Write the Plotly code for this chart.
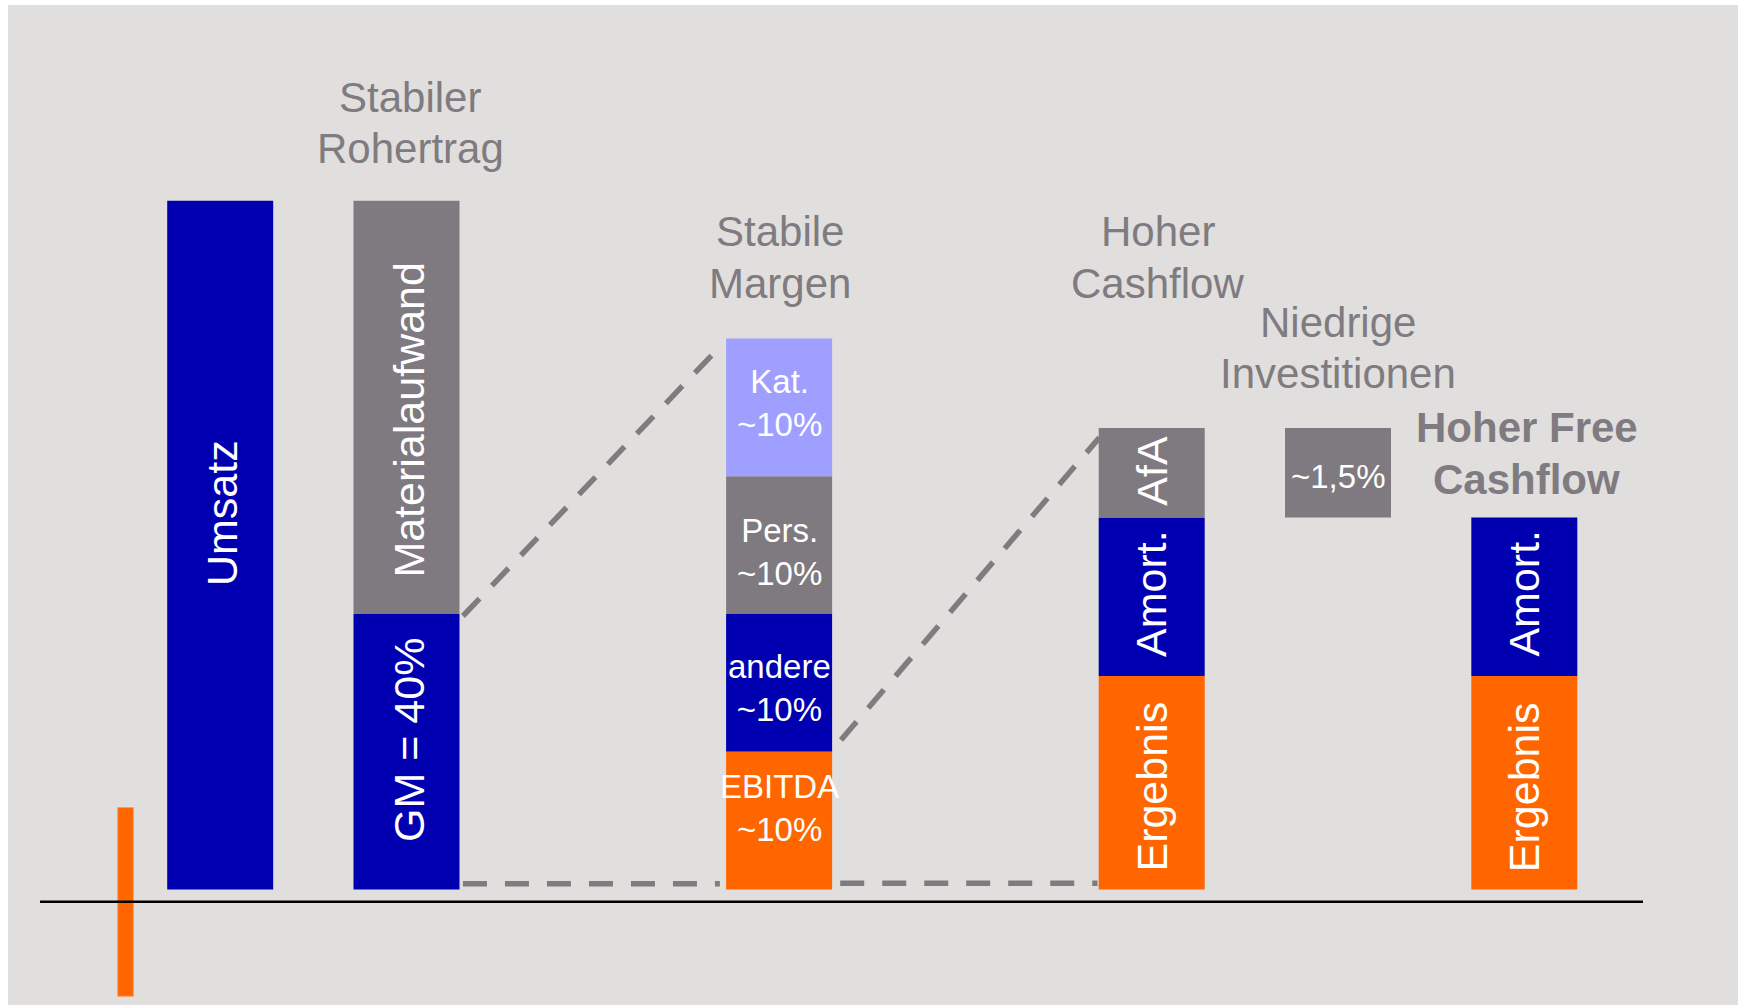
import plotly.graph_objects as go

# ---------------- data ----------------
# bar segments (x position, base, value, colour group)
seg_pos   = [0,   1,  1,  3,  3,  3,  3,  5,  5,  5,  6,  7,  7]
seg_base  = [0,   0, 40,  0, 20, 40, 60,  0, 31, 54, 54,  0, 31]
seg_value = [100, 40, 60, 20, 20, 20, 20, 31, 23, 13, 13, 31, 23]
seg_group = ["blue", "blue", "gray", "orange", "blue", "gray", "lavender",
             "orange", "blue", "gray", "gray", "orange", "blue"]

# small orange marker on the left
marker_pos = [-0.508]
marker_base = [-15.5]
marker_value = [27.4]

# rotated in-bar labels (x, y, text)
rot_x = [0.01, 1.013, 1.013, 5.0, 5.0, 5.0, 7.0, 7.0]
rot_y = [54.65, 68.2, 21.7, 14.9, 43.0, 60.75, 14.9, 43.0]
rot_text = ["Umsatz", "Materialaufwand", "GM = 40%", "Ergebnis", "Amort.", "AfA",
            "Ergebnis", "Amort."]

# horizontal in-bar labels
hor_x = [3.0, 3.0, 3.0, 3.0, 6.0]
hor_y = [70.6, 49.0, 29.2, 11.8, 59.95]
hor_text = ["Kat.<br>~10%", "Pers.<br>~10%", "andere<br>~10%", "EBITDA<br>~10%", "~1,5%"]

# header lines
head_x = [1.019, 1.019, 3.006, 3.006, 5.033, 5.033, 6.0, 6.0, 7.014, 7.014]
head_y = [115.0, 107.51, 95.45, 88.0, 95.45, 88.0, 82.38, 74.94, 67.0, 59.58]
head_text = ["Stabiler", "Rohertrag", "Stabile", "Margen", "Hoher", "Cashflow",
             "Niedrige", "Investitionen", "<b>Hoher Free</b>", "<b>Cashflow</b>"]

# dashed connector lines
dash_lines = [
    ([1.303, 2.640], [39.7, 77.6]),
    ([1.303, 2.682], [0.83, 0.83]),
    ([3.328, 4.709], [0.9, 0.9]),
    ([3.332, 4.719], [21.7, 65.6]),
]
# baseline
base_x = [-0.967, 7.637]
base_y = [-1.77, -1.77]

colors = {"blue": "#0000B0", "gray": "#7F7A7F", "orange": "#FF6600", "lavender": "#9F9FFF"}
BG = "#E0DFDD"
TEXT_GRAY = "#7F7B80"
BAR_W = 0.569

fig = go.Figure()
for grp, col in colors.items():
    idx = [i for i, g in enumerate(seg_group) if g == grp]
    fig.add_trace(go.Bar(
        x=[seg_pos[i] for i in idx],
        y=[seg_value[i] for i in idx],
        base=[seg_base[i] for i in idx],
        width=BAR_W,
        marker=dict(color=col, line=dict(width=0)),
        hoverinfo="skip",
    ))

fig.add_trace(go.Bar(x=marker_pos, y=marker_value, base=marker_base, width=0.084,
                     marker=dict(color="#FF6600", line=dict(width=1, color="#FF9A5C")),
                     hoverinfo="skip"))

fig.add_trace(go.Scatter(x=base_x, y=base_y, mode="lines",
                         line=dict(color="black", width=2.5), hoverinfo="skip"))
for lx, ly in dash_lines:
    fig.add_trace(go.Scatter(x=lx, y=ly, mode="lines",
                             line=dict(color="#7F7B7F", width=5.5, dash="24px,18px"),
                             hoverinfo="skip"))

ann = []
for x, y, t in zip(rot_x, rot_y, rot_text):
    ann.append(dict(x=x, y=y, text=t, textangle=-90, showarrow=False,
                    xanchor="center", yanchor="middle",
                    font=dict(family="Liberation Sans, Arial", size=43, color="white")))
for x, y, t in zip(hor_x, hor_y, hor_text):
    ann.append(dict(x=x, y=y, text=t, showarrow=False, xanchor="center", yanchor="middle",
                    font=dict(family="Liberation Sans, Arial", size=33, color="white")))
for x, y, t in zip(head_x, head_y, head_text):
    ann.append(dict(x=x, y=y, text=t, showarrow=False, xanchor="center", yanchor="middle",
                    font=dict(family="Liberation Sans, Arial", size=42, color=TEXT_GRAY)))

fig.update_layout(
    width=1738, height=1005,
    margin=dict(l=8, r=0, t=5, b=0, pad=0),
    paper_bgcolor="white", plot_bgcolor=BG,
    barmode="overlay", showlegend=False,
    annotations=ann,
    xaxis=dict(visible=False, range=[-1.139, 8.147], fixedrange=True),
    yaxis=dict(visible=False, range=[-16.77, 128.4], fixedrange=True),
)

fig.write_html("out.html")
